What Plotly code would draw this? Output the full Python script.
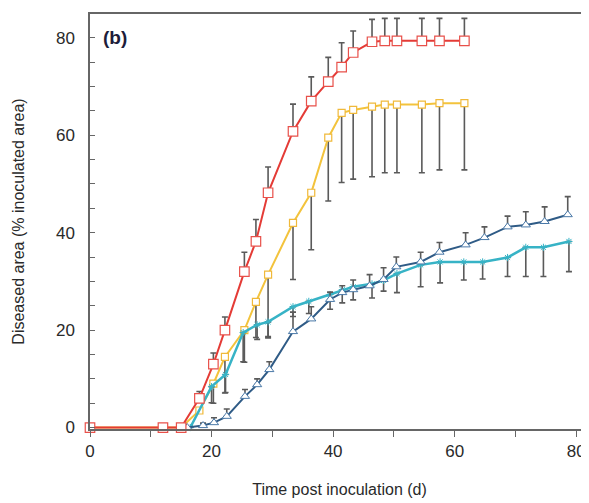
import plotly.graph_objects as go

# ---- data ----
rx = [0, 12, 15, 18, 20.3, 22.2, 25.4, 27.3, 29.3, 33.4, 36.4, 39.2, 41.4, 43.3, 46.4, 48.5, 50.5, 54.6, 57.5, 61.6]
red_y = [0, 0, 0, 6, 13, 20, 32, 38.2, 48.2, 60.8, 67, 71, 74, 77, 79.2, 79.4, 79.4, 79.4, 79.4, 79.4]
red_err = [0, 0, 0, 1.4, 2.3, 2.7, 4, 4.5, 5.3, 5.6, 5, 5, 5, 4.4, 4.6, 4.6, 4.6, 4.6, 4.6, 4.6]

yel_y = [0, 0, 0, 3.5, 9, 14.5, 20, 25.8, 31.4, 42, 48.2, 59.5, 64.6, 65.2, 65.9, 66.3, 66.3, 66.3, 66.6, 66.6]
yel_err = [0, 0, 0, 0, 4, 7.4, 6.6, 7.3, 12.7, 11.6, 11.7, 13, 14.3, 14.2, 14.4, 14, 14, 14, 13.7, 13.7]

cx = [16.5, 20, 22.3, 25.2, 27.5, 29.3, 33.4, 36, 39.5, 41.5, 43.3, 46.4, 48.3, 50.5, 54.4, 57.6, 61.5, 64.6, 68.7, 71.7, 74.6, 78.8]
cyan_y = [0, 8.4, 10.9, 19.5, 21.1, 21.7, 24.8, 25.9, 27.3, 28.3, 28.9, 29.5, 30.2, 31.6, 33.4, 34, 34, 34, 34.9, 37, 37, 38.2]
cyan_err = [0, 3.3, 3.7, 6, 3, 3.3, 2, 2.5, 3, 2.7, 2.7, 2.9, 2.2, 3.9, 4.5, 4.3, 3.7, 3.5, 3.9, 6, 6, 6.2]

bx = [16, 18.6, 20.4, 22.5, 25.5, 27.5, 29.5, 33.4, 36.4, 39.5, 41.5, 43.3, 46, 48.3, 50.4, 54.4, 57.5, 61.8, 64.9, 68.7, 71.7, 74.8, 78.6]
blue_y = [0, 0.4, 1, 2.3, 6.4, 8.8, 11.9, 19.7, 22.3, 26.3, 27.7, 28.3, 29.1, 30.4, 33, 34, 36, 37.5, 39, 41.2, 41.6, 42.3, 43.7]
blue_err = [0, 0.5, 1, 1.5, 1.4, 1.2, 1.6, 4, 2.5, 1.5, 1.4, 2, 2.3, 2.4, 2, 2, 2, 2.5, 2.2, 2.2, 2.7, 3, 3.7]

x_ticks = [0, 20, 40, 60, 80]
y_ticks = [0, 20, 40, 60, 80]

ERR_COL = "#5a5a5a"

fig = go.Figure()

def err(upper=None, lower=None):
    d = dict(type="data", symmetric=False, color=ERR_COL, thickness=1.6, width=3)
    d["array"] = upper if upper is not None else [0] * len(lower)
    d["arrayminus"] = lower if lower is not None else [0] * len(upper)
    return d

fig.add_trace(go.Scatter(
    x=rx, y=yel_y, mode="lines+markers", cliponaxis=False,
    line=dict(color="#f3c33c", width=2),
    marker=dict(symbol="square", size=7, color="white", line=dict(color="#f0b93a", width=1.2)),
    error_y=err(lower=yel_err), showlegend=False))

fig.add_trace(go.Scatter(
    x=cx, y=cyan_y, mode="lines+markers", cliponaxis=False,
    line=dict(color="#37b3c6", width=2.5),
    marker=dict(symbol="asterisk-open", size=6, color="#37b3c6", line=dict(color="#37b3c6", width=1)),
    error_y=err(lower=cyan_err), showlegend=False))

fig.add_trace(go.Scatter(
    x=bx, y=blue_y, mode="lines+markers", cliponaxis=False,
    line=dict(color="#2f5b86", width=2),
    marker=dict(symbol="triangle-up", size=8, color="white", line=dict(color="#4a79a8", width=1)),
    error_y=err(upper=blue_err), showlegend=False))

fig.add_trace(go.Scatter(
    x=rx, y=red_y, mode="lines+markers", cliponaxis=False,
    line=dict(color="#e43b36", width=2),
    marker=dict(symbol="square", size=9.5, color="white", line=dict(color="#e8504a", width=1.2)),
    error_y=err(upper=red_err), showlegend=False))

fig.add_annotation(x=0, y=80, xref="x", yref="y", text="<b>(b)</b>", showarrow=False,
                   xanchor="left", yanchor="middle", xshift=11,
                   font=dict(size=19, color="#1d1d3a", family="Liberation Sans, Arial"))

# the page body adds an 8px offset; margins compensate so the plot lands where the reference has it
fig.update_layout(
    width=589, height=503,
    margin=dict(l=82, r=8, t=6, b=82),
    paper_bgcolor="white", plot_bgcolor="white",
    font=dict(family="Liberation Sans, Arial, sans-serif", color="#2a2a2a"),
    xaxis=dict(range=[0, 82.1], tickvals=x_ticks, ticktext=[str(v) for v in x_ticks],
               automargin=False,
               ticks="outside", ticklen=6, tickcolor="#666", tickwidth=1.3,
               minor=dict(dtick=10, tick0=0, ticks="outside", ticklen=6, tickcolor="#666"),
               showline=True, linecolor="#666", linewidth=1.5, mirror=True,
               showgrid=False, zeroline=False,
               tickfont=dict(size=17, color="#2a2a2a"),
               title=dict(text="Time post inoculation (d)", font=dict(size=16, color="#2a2a2a"), standoff=24)),
    yaxis=dict(range=[-0.3, 84.9], tickvals=y_ticks, ticktext=[str(v) for v in y_ticks],
               automargin=False, ticklabelstandoff=10,
               ticks="inside", ticklen=5, tickcolor="#666", tickwidth=1.3,
               minor=dict(dtick=5, tick0=0, ticks="inside", ticklen=5, tickcolor="#666"),
               showline=True, linecolor="#666", linewidth=1.5, mirror=False,
               showgrid=False, zeroline=False,
               tickfont=dict(size=17, color="#2a2a2a"),
               title=dict(text="Diseased area (% inoculated area)", font=dict(size=16, color="#2a2a2a"), standoff=27)),
)

fig.write_html("out.html")
